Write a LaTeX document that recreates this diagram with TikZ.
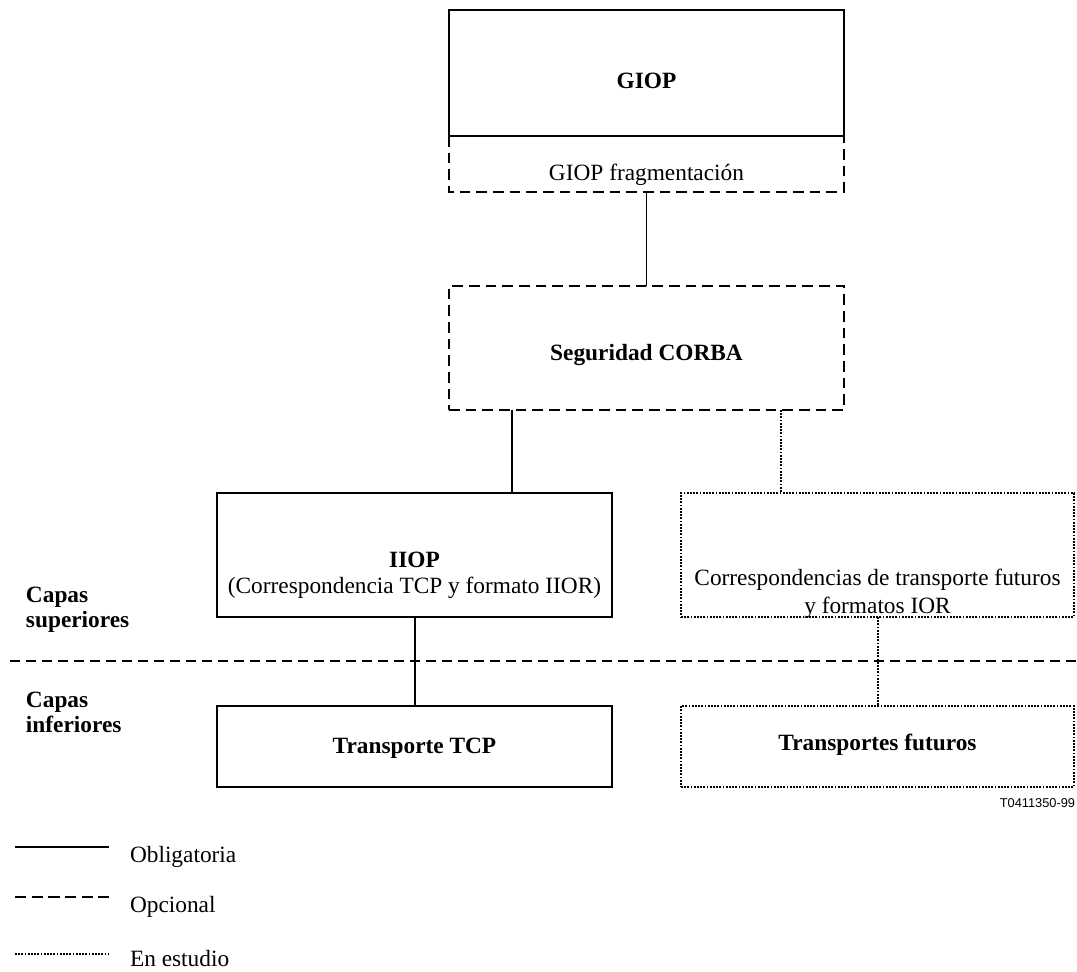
\documentclass[tikz,border=0pt]{standalone}
\usepackage{fontspec}
\setmainfont{Liberation Serif}
\newfontfamily\refsans{Liberation Sans}
\begin{document}
\begin{tikzpicture}[x=0.75pt,y=-0.75pt,
  every node/.style={inner sep=0pt,outer sep=0pt},
  txt/.style={anchor=base,font=\fontsize{17.5}{21}\selectfont},
  btxt/.style={anchor=base,font=\fontsize{17.5}{21}\selectfont\bfseries},
  oblig/.style={line width=1.1pt},
  conn/.style={line width=1.4pt},
  opt/.style={line width=1.3pt,dash pattern=on 8pt off 4.5pt},
  study/.style={line width=1.3pt,dash pattern=on 1.4pt off 1pt},
  boxwide/.style={minimum width=296.25pt},
  boxnarrow/.style={minimum width=294.75pt}]
\useasboundingbox (0,0) rectangle (1077,971);
% GIOP block
\node[draw,oblig,boxwide,minimum height=94.5pt] (giop) at (646.5,73) {};
\node[btxt] (giopt) at (646.5,88) {GIOP};
\node[boxwide,minimum height=42pt] (frag) at (646.5,164) {};
\draw[opt] (frag.north west) -- (frag.south west) -- (frag.south east) -- (frag.north east);
\node[txt] (fragt) at (646.5,180) {GIOP fragmentación};
% Seguridad
\node[draw,opt,boxwide,minimum height=93pt] (seg) at (646.5,348) {};
\node[btxt] (segt) at (646.5,360) {Seguridad CORBA};
% IIOP
\node[draw,oblig,boxwide,minimum height=93pt] (iiop) at (414.5,555) {};
\node[btxt] (iiopt) at (414.5,567) {IIOP};
\node[txt] (iiopt2) at (414.5,593) {(Correspondencia TCP y formato IIOR)};
% future mappings
\node[draw,study,boxnarrow,minimum height=93pt] (fut) at (877.5,555) {};
\node[txt] (futt1) at (877.5,585) {Correspondencias de transporte futuros};
\node[txt] (futt2) at (877.5,613) {y formatos IOR};
% transports
\node[draw,oblig,boxwide,minimum height=60.75pt] (tcp) at (414.5,746.5) {};
\node[btxt] (tcpt) at (414.5,753) {Transporte TCP};
\node[draw,study,boxnarrow,minimum height=60.75pt] (futtr) at (877.5,746.5) {};
\node[btxt] (futtrt) at (877.5,750) {Transportes futuros};
% connectors
\coordinate (xa) at (512,0);
\coordinate (xb) at (781,0);
\coordinate (xc) at (415,0);
\coordinate (xd) at (878,0);
\draw[conn] (frag.south) -- (seg.north);
\draw[conn] (seg.south -| xa) -- (iiop.north -| xa);
\draw[study] (seg.south -| xb) -- (fut.north -| xb);
\draw[conn] (iiop.south -| xc) -- (tcp.north -| xc);
\draw[study] (fut.south -| xd) -- (futtr.north -| xd);
% layer separator
\coordinate (sepl) at (10,661);
\coordinate (sepr) at (1077,661);
\draw[line width=1.3pt,dash pattern=on 7.5pt off 4.5pt] (sepl) -- (sepr);
\node[btxt,anchor=base west] (cs1) at (26,602) {Capas};
\node[btxt,anchor=base west] (cs2) at (26,627) {superiores};
\node[btxt,anchor=base west] (ci1) at (26,707) {Capas};
\node[btxt,anchor=base west] (ci2) at (26,732) {inferiores};
% figure id
\node[anchor=base east,font=\refsans\fontsize{9.6}{11}\selectfont] (figid) at (1075,807) {T0411350-99};
% legend
\coordinate (l1a) at (15,847); \coordinate (l1b) at (109,847);
\coordinate (l2a) at (15,897); \coordinate (l2b) at (109,897);
\coordinate (l3a) at (15,954); \coordinate (l3b) at (109,954);
\draw[conn] (l1a) -- (l1b);
\draw[line width=1.3pt,dash pattern=on 8.5pt off 4pt] (l2a) -- (l2b);
\draw[study] (l3a) -- (l3b);
\node[txt,anchor=base west] (lg1) at (130,862) {Obligatoria};
\node[txt,anchor=base west] (lg2) at (130,912) {Opcional};
\node[txt,anchor=base west] (lg3) at (130,966) {En estudio};
\end{tikzpicture}
\end{document}
